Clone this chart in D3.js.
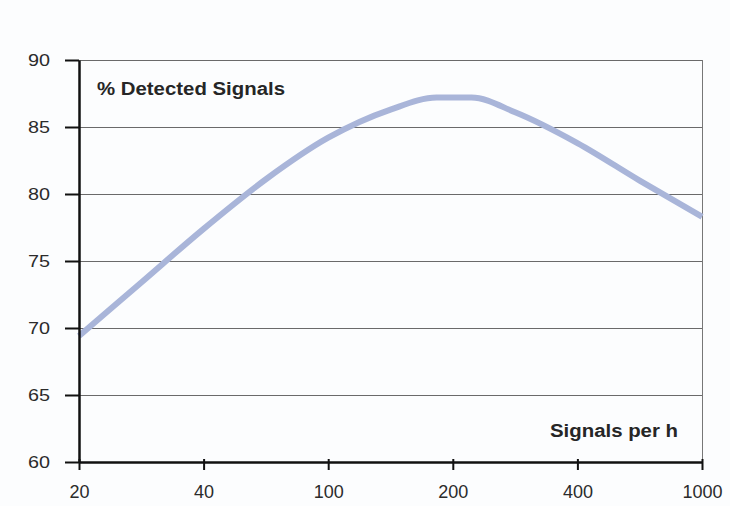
<!DOCTYPE html>
<html>
<head>
<meta charset="utf-8">
<script src="https://cdn.jsdelivr.net/npm/d3@7"></script>
<style>
  html, body { margin: 0; padding: 0; background: #fcfdfe; }
  svg { display: block; }
  text { font-family: "Liberation Sans", Arial, Helvetica, sans-serif; }
</style>
</head>
<body>
<svg id="chart" width="730" height="506"></svg>
<script>
// ---- data ----
const categories = ["20", "40", "100", "200", "400", "1000"];
// position along the category axis (0 = "20", 5 = "1000") and % detected
const positions = [0, 0.5, 1, 1.5, 2, 2.5, 2.87, 3.15, 3.5, 4, 4.5, 5];
const detected  = [69.4, 73.4, 77.4, 81.1, 84.2, 86.3, 87.2, 87.2, 86.1, 83.8, 81.0, 78.3];
const yTicks = [60, 65, 70, 75, 80, 85, 90];
const yTitle = "% Detected Signals";
const xTitle = "Signals per h";

// ---- layout ----
const mLeft = 79, mRight = 702, mTop = 60, mBottom = 462;
const svg = d3.select("#chart");

const x = d3.scaleLinear().domain([0, categories.length - 1]).range([mLeft, mRight]);
const y = d3.scaleLinear().domain([60, 90]).range([mBottom, mTop]);

// gridlines
svg.append("g")
  .attr("transform", `translate(${mLeft},0)`)
  .call(d3.axisLeft(y).tickValues(yTicks.filter(v => v > 60)).tickSize(-(mRight - mLeft)).tickFormat(""))
  .call(g => g.select(".domain").remove())
  .call(g => g.selectAll("line").attr("stroke", "#6a6a6a").attr("stroke-width", 1).attr("shape-rendering", "crispEdges"));

// right border
svg.append("line")
  .attr("x1", mRight).attr("x2", mRight).attr("y1", y(90)).attr("y2", y(60))
  .attr("stroke", "#777").attr("stroke-width", 1).attr("shape-rendering", "crispEdges");

// line
const line = d3.line()
  .x((d, i) => x(positions[i]))
  .y(d => y(d))
  .curve(d3.curveMonotoneX);

svg.append("path")
  .datum(detected)
  .attr("d", line)
  .attr("fill", "none")
  .attr("stroke", "#a9b5d9")
  .attr("stroke-width", 6)
  .attr("stroke-linejoin", "round");

// y axis
const yAxis = svg.append("g")
  .attr("transform", `translate(${mLeft},0)`)
  .call(d3.axisLeft(y).tickValues(yTicks).tickSize(14).tickPadding(15).tickSizeOuter(0));
yAxis.select(".domain").attr("stroke", "#111").attr("stroke-width", 2.5);
yAxis.selectAll(".tick line").attr("stroke", "#111").attr("stroke-width", 2);
yAxis.selectAll(".tick text")
  .attr("fill", "#2b2b2b")
  .style("font-size", "17px")
  .attr("textLength", 22)
  .attr("lengthAdjust", "spacingAndGlyphs");

// x axis
const xAxis = svg.append("g")
  .attr("transform", `translate(0,${mBottom})`)
  .call(d3.axisBottom(x).tickValues(d3.range(categories.length)).tickFormat(i => categories[i])
        .tickSize(8).tickPadding(15).tickSizeOuter(0));
xAxis.select(".domain").attr("stroke", "#111").attr("stroke-width", 2.5);
xAxis.selectAll(".tick line").attr("stroke", "#111").attr("stroke-width", 2).attr("y1", -3);
xAxis.selectAll(".tick text")
  .attr("fill", "#2b2b2b")
  .style("font-size", "18px");

// titles
svg.append("text")
  .attr("x", 97).attr("y", 95)
  .attr("fill", "#262626")
  .style("font-size", "17.5px").style("font-weight", "bold")
  .attr("textLength", 188).attr("lengthAdjust", "spacingAndGlyphs")
  .text(yTitle);

svg.append("text")
  .attr("x", 550).attr("y", 437)
  .attr("fill", "#262626")
  .style("font-size", "17.5px").style("font-weight", "bold")
  .attr("textLength", 128).attr("lengthAdjust", "spacingAndGlyphs")
  .text(xTitle);
</script>
</body>
</html>
